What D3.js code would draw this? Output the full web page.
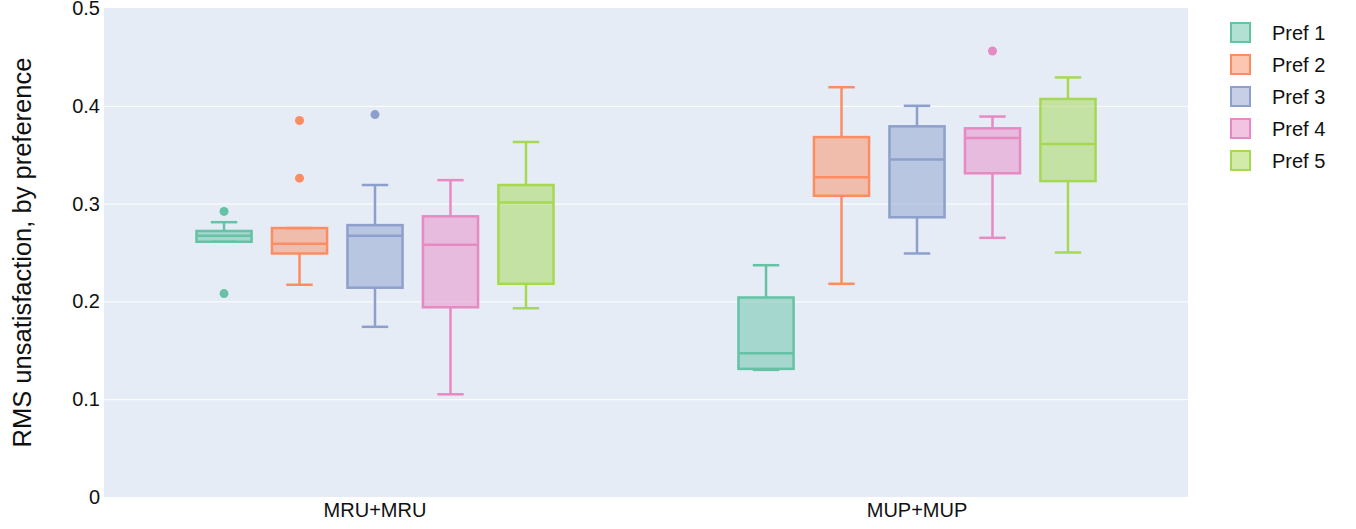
<!DOCTYPE html>
<html>
<head>
<meta charset="utf-8">
<script src="https://cdn.jsdelivr.net/npm/d3@7"></script>
<style>
  body { margin: 0; background: #fff; }
  text { font-family: "Liberation Sans", Arial, sans-serif; }
</style>
</head>
<body>
<script>
// Data
const categories = ["MRU+MRU", "MUP+MUP"];
const prefs = ["Pref 1", "Pref 2", "Pref 3", "Pref 4", "Pref 5"];
const colors = ["#66c2a5", "#fc8d62", "#8da0cb", "#e78ac3", "#a6d854"];

// each row = one pref, values for [MRU+MRU, MUP+MUP]
const lowerFence = [[0.261, 0.130], [0.217, 0.218], [0.174, 0.249], [0.105, 0.265], [0.193, 0.250]];
const q1 = [[0.261, 0.131], [0.249, 0.308], [0.214, 0.286], [0.194, 0.331], [0.218, 0.323]];
const median = [[0.267, 0.147], [0.259, 0.327], [0.267, 0.345], [0.258, 0.367], [0.301, 0.361]];
const q3 = [[0.272, 0.204], [0.275, 0.368], [0.278, 0.379], [0.287, 0.377], [0.319, 0.407]];
const upperFence = [[0.281, 0.237], [0.275, 0.419], [0.319, 0.400], [0.324, 0.389], [0.363, 0.429]];
const outliers = [
  [[0.292, 0.208], []],
  [[0.385, 0.326], []],
  [[0.391], []],
  [[], [0.456]],
  [[], []]
];
const yTicks = [0, 0.1, 0.2, 0.3, 0.4, 0.5];

const W = 1356, H = 529;
const plot = { left: 104, right: 1188, top: 8, bottom: 497 };

const svg = d3.select("body").append("svg")
    .attr("width", W)
    .attr("height", H);

const x0 = d3.scaleBand()
    .domain(categories)
    .range([plot.left, plot.right])
    .padding(0);

const x1 = d3.scaleBand()
    .domain(prefs)
    .range([0, x0.bandwidth()])
    .paddingInner(0.27)
    .paddingOuter(1.225);

const y = d3.scaleLinear()
    .domain([0, 0.5])
    .range([plot.bottom, plot.top]);

// background
svg.append("rect")
    .attr("x", plot.left)
    .attr("y", plot.top)
    .attr("width", plot.right - plot.left)
    .attr("height", plot.bottom - plot.top)
    .attr("fill", "#e5ecf6");

// grid + y axis
const yAxis = d3.axisLeft(y)
    .tickValues(yTicks)
    .tickFormat(d => d === 0 ? "0" : d3.format(".1f")(d))
    .tickSize(-(plot.right - plot.left))
    .tickPadding(4);

const gy = svg.append("g")
    .attr("transform", `translate(${plot.left},0)`)
    .call(yAxis);
gy.select(".domain").remove();
gy.selectAll(".tick line")
    .attr("stroke", "#fff")
    .attr("stroke-width", 1)
    .filter(d => d === 0 || d === 0.5).remove();
gy.selectAll(".tick text")
    .attr("font-size", 20)
    .attr("fill", "#111");

// x axis labels
const gx = svg.append("g")
    .attr("transform", `translate(0,${plot.bottom})`)
    .call(d3.axisBottom(x0).tickSize(0).tickPadding(6));
gx.select(".domain").remove();
gx.selectAll(".tick text")
    .attr("font-size", 20)
    .attr("fill", "#111");

// y title
svg.append("text")
    .attr("transform", `translate(31,${(plot.top + plot.bottom) / 2}) rotate(-90)`)
    .attr("text-anchor", "middle")
    .attr("font-size", 25.5)
    .attr("fill", "#111")
    .text("RMS unsatisfaction, by preference");

// boxes
const bw = x1.bandwidth();
const capW = bw * 0.48;
const sw = 2.5;

prefs.forEach((p, i) => {
    const col = colors[i];
    categories.forEach((c, j) => {
        const cx = x0(c) + x1(p) + bw / 2;
        const g = svg.append("g");

        // whiskers
        g.append("line")
            .attr("x1", cx).attr("x2", cx)
            .attr("y1", y(upperFence[i][j])).attr("y2", y(q3[i][j]))
            .attr("stroke", col).attr("stroke-width", sw);
        g.append("line")
            .attr("x1", cx).attr("x2", cx)
            .attr("y1", y(q1[i][j])).attr("y2", y(lowerFence[i][j]))
            .attr("stroke", col).attr("stroke-width", sw);
        [upperFence[i][j], lowerFence[i][j]].forEach(v => {
            g.append("line")
                .attr("x1", cx - capW / 2).attr("x2", cx + capW / 2)
                .attr("y1", y(v)).attr("y2", y(v))
                .attr("stroke", col).attr("stroke-width", sw);
        });

        // box
        g.append("rect")
            .attr("x", cx - bw / 2)
            .attr("y", y(q3[i][j]))
            .attr("width", bw)
            .attr("height", y(q1[i][j]) - y(q3[i][j]))
            .attr("fill", col)
            .attr("fill-opacity", 0.5)
            .attr("stroke", col)
            .attr("stroke-width", sw);

        // median
        g.append("line")
            .attr("x1", cx - bw / 2).attr("x2", cx + bw / 2)
            .attr("y1", y(median[i][j])).attr("y2", y(median[i][j]))
            .attr("stroke", col).attr("stroke-width", sw);

        // outliers
        g.selectAll("circle")
            .data(outliers[i][j])
            .enter()
            .append("circle")
            .attr("cx", cx)
            .attr("cy", d => y(d))
            .attr("r", 4.5)
            .attr("fill", col);
    });
});

// legend
const legend = svg.append("g")
    .attr("transform", "translate(1230,22)");
prefs.forEach((p, i) => {
    const row = legend.append("g")
        .attr("transform", `translate(0,${i * 32})`);
    row.append("rect")
        .attr("x", 1).attr("y", 1)
        .attr("width", 19).attr("height", 19)
        .attr("fill", colors[i])
        .attr("fill-opacity", 0.5)
        .attr("stroke", colors[i])
        .attr("stroke-width", 2);
    row.append("text")
        .attr("x", 42)
        .attr("y", 11)
        .attr("dy", "0.35em")
        .attr("font-size", 20)
        .attr("fill", "#111")
        .text(p);
});
</script>
</body>
</html>
